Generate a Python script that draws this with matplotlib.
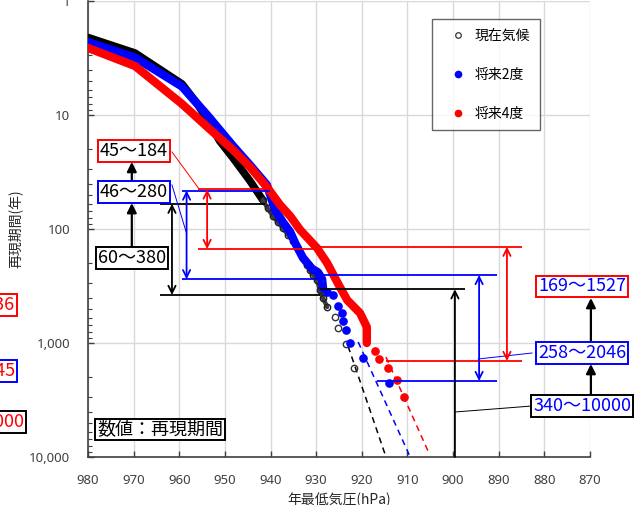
import matplotlib
matplotlib.use('Agg')
import matplotlib.pyplot as plt
from matplotlib.lines import Line2D
import matplotlib.ticker as mticker

plt.rcParams['font.family'] = ['Noto Sans CJK JP', 'DejaVu Sans']

# ---------------- data (pressure hPa, return period years) ----------------
series_names = ['現在気候', '将来2度', '将来4度']

black_band_p = [980, 969.7, 959.4, 956.0, 951.1, 948.2, 944.5, 941.7]
black_band_rp = [2.09, 2.86, 5.34, 8.0, 17.0, 23.9, 37.9, 55.7]
black_mid_p = [941.7, 940.6, 939.5, 938.4, 937.3, 936.2, 935.1, 934.0, 932.9, 932.1, 931.4, 930.6, 929.8, 929.2, 928.5, 927.6]
black_mid_rp = [55.7, 66, 77, 87, 98, 112, 127, 150, 179, 205, 229, 255, 280, 343, 403, 483]
black_tail_p = [925.9, 925.2, 923.5, 921.7]
black_tail_rp = [592, 739, 1020, 1656]

blue_band_p = [980, 969.7, 959.4, 953.7, 948.2, 944.5, 940.8, 939.0, 937.3, 935.7, 934.6, 932.9, 930.9, 929.6, 928.7, 928.5]
blue_band_rp = [2.29, 3.13, 5.63, 10.2, 18.7, 27.5, 41, 68, 87, 106, 133, 179, 223, 240, 275, 330]
blue_tail_p = [927.6, 926.3, 925.2, 924.3, 924.1, 923.5, 922.6, 919.7, 914.0]
blue_tail_rp = [355, 379, 474, 546, 640, 769, 1000, 1355, 2244]

red_band_p = [980, 969.7, 959.4, 953.7, 948.2, 944.5, 940.8, 937.9, 935.7, 933.5, 929.8, 927.6, 924.8, 923.2, 920.4, 918.9, 918.9]
red_band_rp = [2.58, 3.72, 8.0, 12.9, 20.3, 28.6, 42.8, 61.6, 77, 102, 147, 199, 323, 420, 546, 724, 1000]
red_tail_p = [917.1, 916.2, 914.3, 912.3, 910.8]
red_tail_rp = [1175, 1381, 1656, 2112, 2978]

# fitted (extrapolated) lines
black_fit_p = [923.0, 914.7]
black_fit_rp = [1070, 10000]
blue_fit_p = [920.8, 909.4]
blue_fit_rp = [980, 10000]
red_fit_p = [914.7, 905.3]
red_fit_rp = [1330, 9226]

# ranges shown by the bracket lines (return periods)
left_red_rp = [45, 150]
left_blue_rp = [46, 276]
left_black_rp = [60, 379]
right_red_rp = [143, 1438]
right_blue_rp = [253, 2155]
right_black_rp = [338, 10000]

# box labels
left_labels = ['45～184', '46～280', '60～380']
right_labels = ['169～1527', '258～2046', '340～10000']
clipped_labels = ['169～836', '258～1645', '340～10000']
note_label = '数値：再現期間'

x_ticks = [980, 970, 960, 950, 940, 930, 920, 910, 900, 890, 880, 870]
y_ticks = [1, 10, 100, 1000, 10000]
y_tick_labels = ['1', '10', '100', '1,000', '10,000']

RED = '#ff0000'
BLUE = '#0000ff'
BLK = '#000000'

fig = plt.figure(figsize=(6.35, 5.05), dpi=100)
ax = fig.add_axes([88/635, 1-457/505, 502/635, 456/505])

ax.set_xlim(980, 870)
ax.set_yscale('log')
ax.set_ylim(10000, 1)

ax.set_xticks(x_ticks)
ax.set_yticks(y_ticks)
ax.set_yticklabels(y_tick_labels)
ax.yaxis.set_minor_locator(mticker.LogLocator(base=10, subs=range(2, 10)))
ax.yaxis.set_minor_formatter(mticker.NullFormatter())
ax.tick_params(axis='both', which='major', direction='in', length=4, width=1, colors='#404040',
               labelsize=9.5, labelcolor='#404040')
ax.tick_params(axis='y', which='major', pad=13)
ax.tick_params(axis='x', which='major', pad=12)
ax.tick_params(axis='y', which='minor', direction='in', length=3, width=0.8, color='#404040')
for lab in ax.get_xticklabels() + ax.get_yticklabels():
    lab.set_fontfamily(['Noto Sans', 'DejaVu Sans'])

ax.grid(True, which='major', color='#d9d9d9', lw=1)
ax.set_axisbelow(True)
for s in ['top', 'right']:
    ax.spines[s].set_visible(False)
for s in ['left', 'bottom']:
    ax.spines[s].set_color('#404040')
    ax.spines[s].set_linewidth(1.2)

ax.set_xlabel('年最低気圧(hPa)', fontsize=10, color='#262626', labelpad=4)
ax.set_ylabel('再現期間(年)', fontsize=10, color='#262626')
ax.yaxis.set_label_coords(-0.13, 0.5)

# ---------------- series ----------------
ax.plot(black_band_p, black_band_rp, color=BLK, lw=5.5, solid_capstyle='round', zorder=3)
ax.plot(black_mid_p, black_mid_rp, color='#3c3c3c', lw=3.2, solid_capstyle='round', zorder=3)
ax.plot(black_mid_p, black_mid_rp, ls='none', marker='o', ms=4.6, mfc='none', mec='#202020', mew=1.0, zorder=3)
ax.plot(black_tail_p, black_tail_rp, ls='none', marker='o', ms=4.6, mfc='none', mec='#333333', mew=1.0, zorder=3)
ax.plot(blue_band_p, blue_band_rp, color=BLUE, lw=6, solid_capstyle='round', zorder=4)
ax.plot(blue_tail_p, blue_tail_rp, ls='none', marker='o', ms=5.2, color=BLUE, zorder=4)
ax.plot(red_band_p, red_band_rp, color=RED, lw=6, solid_capstyle='round', zorder=5)
ax.plot(red_tail_p, red_tail_rp, ls='none', marker='o', ms=5.2, color=RED, zorder=5)

ax.plot(black_fit_p, black_fit_rp, color=BLK, lw=1.1, ls=(0, (4, 3)), zorder=2)
ax.plot(blue_fit_p, blue_fit_rp, color=BLUE, lw=1.1, ls=(0, (4, 3)), zorder=2)
ax.plot(red_fit_p, red_fit_rp, color=RED, lw=1.1, ls=(0, (4, 3)), zorder=2)

# ---------------- bracket lines ----------------
def hline(rp, p0, p1, c):
    ax.plot([p0, p1], [rp, rp], color=c, lw=1.3, zorder=6, solid_capstyle='butt')

def darrow(p, rp0, rp1, c, style='<->'):
    ax.annotate('', xy=(p, rp1), xytext=(p, rp0),
                arrowprops=dict(arrowstyle=style, color=c, lw=1.3, shrinkA=0, shrinkB=0,
                                mutation_scale=13), zorder=7)

hline(left_blue_rp[0], 959.4, 940.1, BLUE)
hline(left_red_rp[0], 955.9, 940.3, RED)
hline(left_black_rp[0], 964.2, 941.2, BLK)
hline(left_red_rp[1], 955.9, 929.8, RED)
hline(left_blue_rp[1], 959.4, 928.5, BLUE)
hline(left_black_rp[1], 964.2, 929.2, BLK)
darrow(953.9, left_red_rp[0], left_red_rp[1], RED)
darrow(958.4, left_blue_rp[0], left_blue_rp[1], BLUE)
darrow(961.6, left_black_rp[0], left_black_rp[1], BLK)

hline(right_red_rp[0], 929.6, 884.9, RED)
hline(right_red_rp[1], 914.7, 884.9, RED)
hline(right_blue_rp[0], 928.5, 890.4, BLUE)
hline(right_blue_rp[1], 916.7, 890.4, BLUE)
hline(right_black_rp[0], 929.2, 897.4, BLK)
darrow(888.2, right_red_rp[0], right_red_rp[1], RED)
darrow(894.3, right_blue_rp[0], right_blue_rp[1], BLUE)
darrow(899.6, right_black_rp[1], right_black_rp[0], BLK, style='->')

# ---------------- labels ----------------
def box(x, y, s, ec, tc, ha='center'):
    ax.text(x, y, s, ha=ha, va='center', fontsize=13, color=tc, zorder=9, clip_on=False,
            bbox=dict(boxstyle='square,pad=0.1', fc='white', ec=ec, lw=1.4))

box(970.0, 20.7, left_labels[0], RED, BLK)
box(970.0, 47.4, left_labels[1], BLUE, BLK)
box(970.4, 180, left_labels[2], BLK, BLK)
box(871.7, 319, right_labels[0], RED, BLUE)
box(871.7, 1224, right_labels[1], BLUE, BLUE)
box(871.7, 3570, right_labels[2], BLK, BLUE)
box(996.0, 464, clipped_labels[0], RED, RED, ha='right')
box(996.0, 1762, clipped_labels[1], BLUE, RED, ha='right')
box(994.0, 4932, clipped_labels[2], BLK, RED, ha='right')
box(978.0, 5741, note_label, BLK, BLK, ha='left')

# arrows between boxes
def farrow(p, rp0, rp1):
    ax.annotate('', xy=(p, rp1), xytext=(p, rp0),
                arrowprops=dict(arrowstyle='-|>', color=BLK, lw=1.6, shrinkA=0, shrinkB=0,
                                mutation_scale=14), zorder=8, annotation_clip=False)

farrow(970.4, 144, 59.2)
farrow(970.4, 37.9, 25.8)
farrow(869.8, 2800, 1528)
farrow(869.8, 980, 403)

# connector lines
def conn(p0, r0, p1, r1, c):
    ax.plot([p0, p1], [r0, r1], color=c, lw=0.7, zorder=6, clip_on=False)

conn(961.6, 21.1, 955.5, 45.5, RED)
conn(961.6, 41.1, 958.5, 106, BLUE)
conn(882.7, 1224, 894.5, 1381, BLUE)
conn(882.7, 3570, 899.6, 4030, BLK)

# ---------------- legend ----------------
handles = [Line2D([], [], ls='none', marker='o', ms=4, mfc='none', mec='#333333', mew=0.9),
           Line2D([], [], ls='none', marker='o', ms=4.5, color=BLUE),
           Line2D([], [], ls='none', marker='o', ms=4.5, color=RED)]
leg = ax.legend(handles, series_names, loc='upper left', bbox_to_anchor=(0.685, 0.9605),
                borderaxespad=0, frameon=True, fancybox=False, edgecolor='#404040',
                fontsize=10, handlelength=2.4, handletextpad=0.0, labelspacing=1.8,
                borderpad=0.7)
leg.get_frame().set_linewidth(1.0)
leg.set_zorder(10)

fig.savefig('out.png', dpi=100)
